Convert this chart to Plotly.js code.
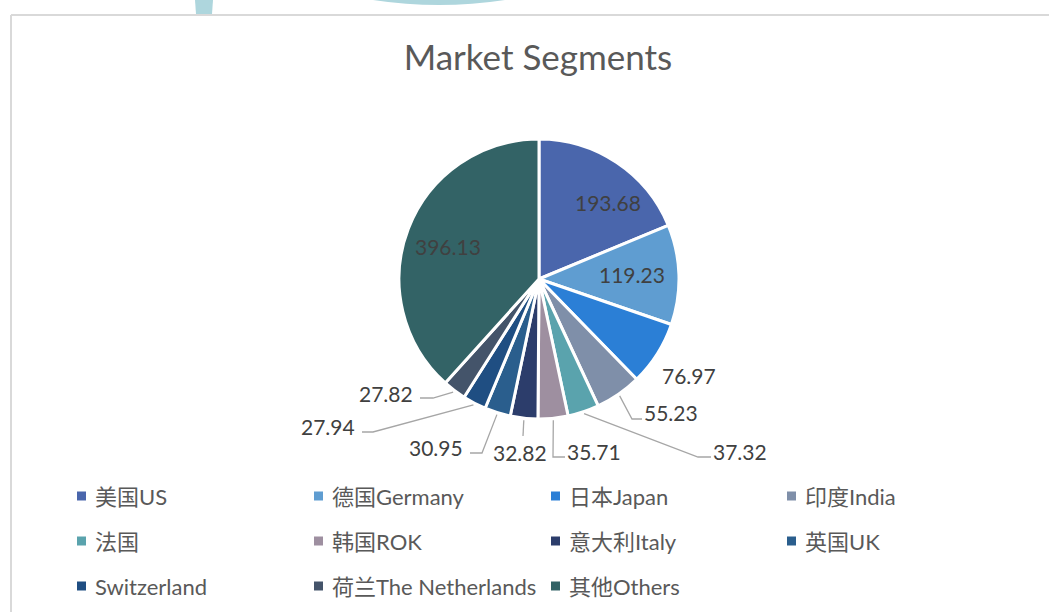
<!DOCTYPE html>
<html><head><meta charset="utf-8">
<script src="https://cdn.plot.ly/plotly-3.0.1.min.js"></script>
<style>html,body{margin:0;padding:0;background:#fff;overflow:hidden;} #chart{width:1049px;height:612px;overflow:hidden;}</style>
</head><body><div id="chart"></div>
<script>
// ---- data ----
const labels = ['美国US','德国Germany','日本Japan','印度India','法国','韩国ROK','意大利Italy','英国UK','Switzerland','荷兰The Netherlands','其他Others'];
const values = [193.68,119.23,76.97,55.23,37.32,35.71,32.82,30.95,27.94,27.82,396.13];
const colors = ['#4A66AC','#5F9DD1','#2B7FD6','#7F8FA9','#5AA3AD','#9E8FA0','#2C3D6B','#2A5E8D','#1F4E82','#44546A','#336366'];

// ---- layout constants ----
const W = 1049, H = 612, CX = 539, CY = 279, R = 140;
const FONT = "Lato, 'Noto Sans CJK SC', sans-serif";
const px = x => x / W, py = y => 1 - y / H;

const total = values.reduce((a, b) => a + b, 0);
let cum = 0; const mids = [];
values.forEach(v => { mids.push((cum + v / 2) / total * 2 * Math.PI); cum += v; });
const polar = (a, r) => [CX + r * Math.sin(a), CY - r * Math.cos(a)];

// label placement (layout only)
const inside = {0: {r: 103, n: [12, 9]}, 1: {r: 93, n: [0, -2]}, 10: {r: 97, n: [0, 2]}};
const outside = {
  2: {t: [689, 375]},
  3: {t: [671, 412], line: [[632, 419], [642, 419]]},
  4: {t: [740, 451], line: [[698, 457], [711, 457]]},
  5: {t: [594, 451], line: [[553, 457], [565, 457]]},
  6: {t: [520, 452], line: [[523, 436]]},
  7: {t: [436, 447], line: [[482, 453], [470, 453]]},
  8: {t: [328, 426], line: [[373, 432], [362, 432]]},
  9: {t: [386, 393], line: [[433, 398], [420, 398]]}
};

const annotations = [];
const shapes = [];

values.forEach((v, i) => {
  const txt = v.toFixed(2);
  if (inside[i]) {
    const p = polar(mids[i], inside[i].r);
    annotations.push({xref: 'paper', yref: 'paper', x: px(p[0] + inside[i].n[0]), y: py(p[1] + inside[i].n[1]),
      text: txt, showarrow: false, xanchor: 'center', yanchor: 'middle', font: {family: FONT, size: 21, color: '#404040'}});
  } else if (outside[i]) {
    const o = outside[i];
    annotations.push({xref: 'paper', yref: 'paper', x: px(o.t[0]), y: py(o.t[1]),
      text: txt, showarrow: false, xanchor: 'center', yanchor: 'middle', font: {family: FONT, size: 21, color: '#404040'}});
    if (o.line) {
      const a = polar(mids[i], R + 2);
      let d = 'M' + px(a[0]) + ',' + py(a[1]);
      o.line.forEach(q => { d += ' L' + px(q[0]) + ',' + py(q[1]); });
      shapes.push({type: 'path', xref: 'paper', yref: 'paper', path: d, line: {color: '#A6A6A6', width: 1.3}});
    }
  }
});

// manual legend grid
const legCols = [93, 330, 567, 803], legRows = [496, 541, 586];
labels.forEach((lab, i) => {
  const c = i % 4, r = Math.floor(i / 4);
  const tx = legCols[c], ty = legRows[r];
  shapes.push({type: 'rect', xref: 'paper', yref: 'paper', x0: px(tx - 16), x1: px(tx - 7), y0: py(ty + 4.5), y1: py(ty - 4.5),
    fillcolor: colors[i], line: {width: 0}});
  annotations.push({xref: 'paper', yref: 'paper', x: px(tx), y: py(ty), text: lab, showarrow: false,
    xanchor: 'left', yanchor: 'middle', font: {family: FONT, size: 22, color: '#595959'}});
});

// chart frame
shapes.push({type: 'line', xref: 'paper', yref: 'paper', x0: px(11), x1: px(1049), y0: py(15), y1: py(15), line: {color: '#D9D9D9', width: 2}});
shapes.push({type: 'line', xref: 'paper', yref: 'paper', x0: px(11), x1: px(11), y0: py(15), y1: py(612), line: {color: '#D9D9D9', width: 2}});
// background decoration at top
shapes.push({type: 'path', xref: 'paper', yref: 'paper', path: 'M' + px(195) + ',' + py(0) + ' L' + px(213) + ',' + py(0) + ' L' + px(212) + ',' + py(14) + ' L' + px(196) + ',' + py(14) + ' Z', fillcolor: '#AED6DD', line: {width: 0}});
shapes.push({type: 'path', xref: 'paper', yref: 'paper', path: 'M' + px(373) + ',' + py(0) + ' Q' + px(439) + ',' + py(10) + ' ' + px(505) + ',' + py(0) + ' Z', fillcolor: '#AED6DD', line: {width: 0}});

const trace = {
  type: 'pie', labels: labels, values: values, sort: false, direction: 'clockwise', rotation: 0,
  marker: {colors: colors, line: {color: '#FFFFFF', width: 3}},
  textinfo: 'none', showlegend: false, hoverinfo: 'label+value',
  domain: {x: [px(CX - R), px(CX + R)], y: [py(CY + R), py(CY - R)]}
};

const layout = {
  width: W, height: H, margin: {l: 0, r: 0, t: 0, b: 0},
  paper_bgcolor: '#FFFFFF', showlegend: false,
  title: {text: 'Market Segments', font: {family: FONT, size: 35, color: '#595959'}, x: px(538), xanchor: 'center', y: py(58), yanchor: 'middle', yref: 'container', xref: 'container'},
  annotations: annotations, shapes: shapes
};

Plotly.newPlot('chart', [trace], layout, {displayModeBar: false, staticPlot: true});
</script></body></html>
